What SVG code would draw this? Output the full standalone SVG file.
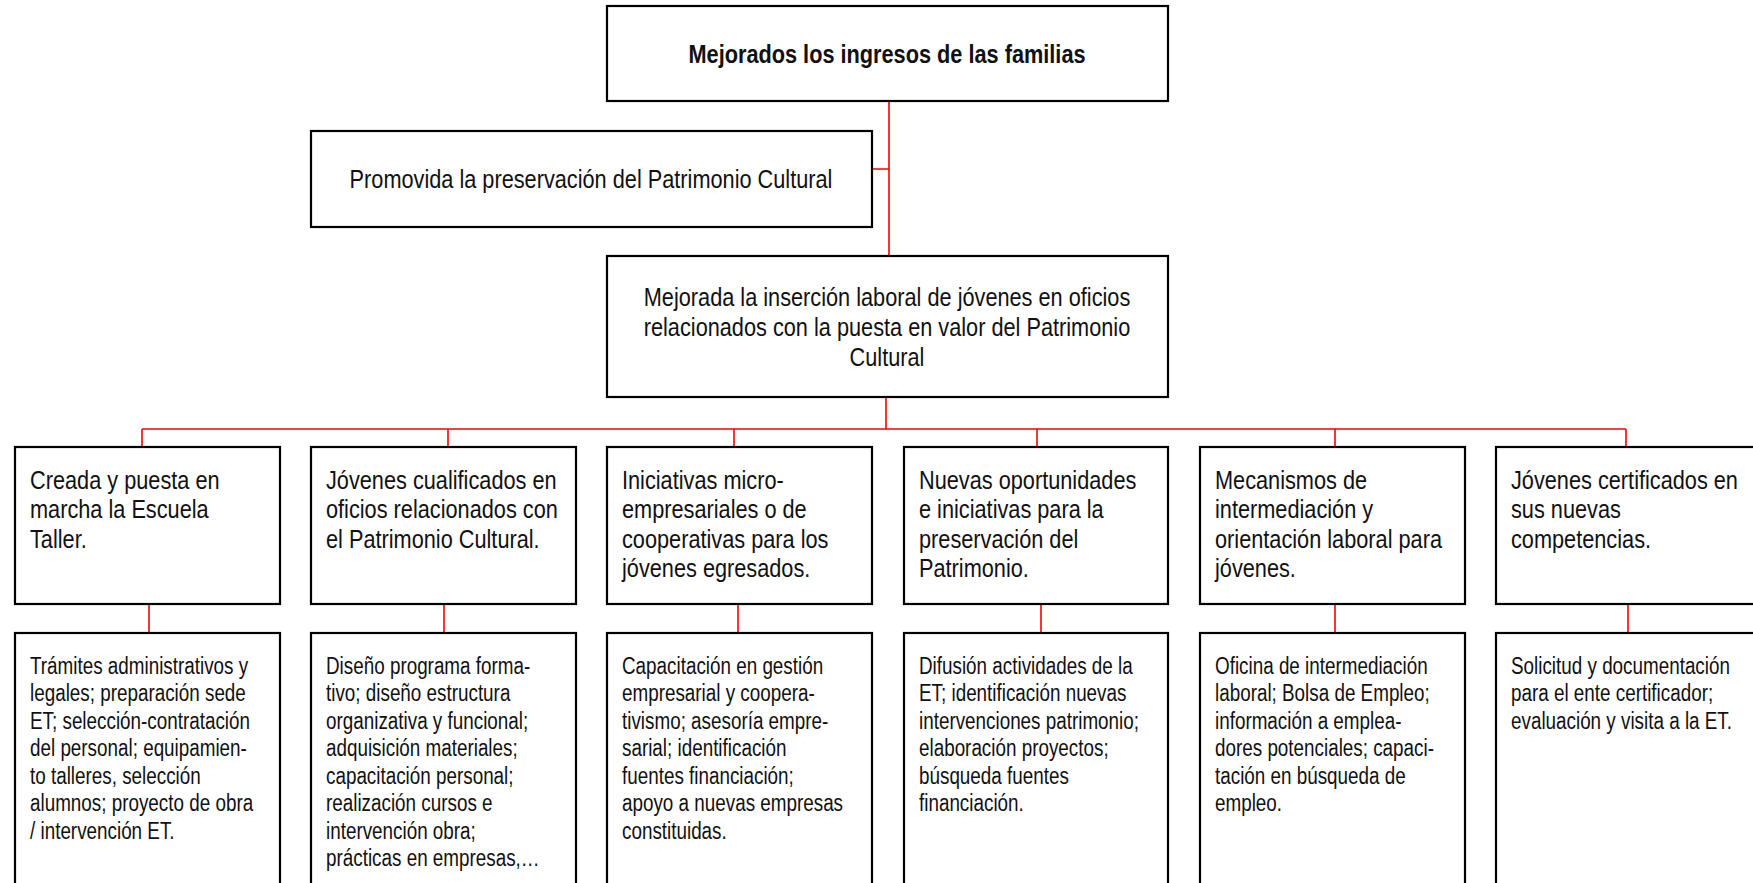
<svg xmlns="http://www.w3.org/2000/svg" width="1753" height="883" viewBox="0 0 1753 883">
<style>
.box{fill:#fff;stroke:#000;stroke-width:2.2}
.t{font-family:"Liberation Sans",Arial,sans-serif;fill:#111}
.c{text-anchor:middle;font-size:26.5px}
.h{font-size:26.5px}
.s{font-size:23px}
.b{font-weight:bold}
.con{stroke:#ff0000;stroke-width:1.6;fill:none}
</style>
<rect width="1753" height="883" fill="#fff"/>
<g id="connectors">
<path class="con" d="M889 101V256M872 169H889M886 397V429M142 429H1626M142 429V447M448 429V447M734 429V447M1037 429V447M1335 429V447M1626 429V447"/>
<path class="con" d="M149 604V633M444 604V633M738 604V633M1041 604V633M1335 604V633M1628 604V633"/>
</g>
<g id="n-top">
<rect class="box" x="607" y="6" width="561" height="95"/>
<text class="t c b" transform="translate(887 63) scale(0.82 1)">Mejorados los ingresos de las familias</text>
</g>
<g id="n-promovida">
<rect class="box" x="311" y="131" width="561" height="96"/>
<text class="t c" transform="translate(591 188) scale(0.82 1)">Promovida la preservación del Patrimonio Cultural</text>
</g>
<g id="n-mejorada">
<rect class="box" x="607" y="256" width="561" height="141"/>
<text class="t c" transform="translate(887 306) scale(0.82 1)"><tspan x="0" y="0">Mejorada la inserción laboral de jóvenes en oficios</tspan><tspan x="0" dy="30">relacionados con la puesta en valor del Patrimonio</tspan><tspan x="0" dy="30">Cultural</tspan></text>
</g>
<g id="r1">
<rect class="box" x="15" y="447" width="265" height="157"/>
<text class="t h" transform="translate(30 489) scale(0.82 1)"><tspan x="0" y="0">Creada y puesta en</tspan><tspan x="0" dy="29.5">marcha la Escuela</tspan><tspan x="0" dy="29.5">Taller.</tspan></text>
</g>
<g id="r2">
<rect class="box" x="311" y="447" width="265" height="157"/>
<text class="t h" transform="translate(326 489) scale(0.82 1)"><tspan x="0" y="0">Jóvenes cualificados en</tspan><tspan x="0" dy="29.5">oficios relacionados con</tspan><tspan x="0" dy="29.5">el Patrimonio Cultural.</tspan></text>
</g>
<g id="r3">
<rect class="box" x="607" y="447" width="265" height="157"/>
<text class="t h" transform="translate(622 489) scale(0.82 1)"><tspan x="0" y="0">Iniciativas micro-</tspan><tspan x="0" dy="29.5">empresariales o de</tspan><tspan x="0" dy="29.5">cooperativas para los</tspan><tspan x="0" dy="29.5">jóvenes egresados.</tspan></text>
</g>
<g id="r4">
<rect class="box" x="904" y="447" width="264" height="157"/>
<text class="t h" transform="translate(919 489) scale(0.82 1)"><tspan x="0" y="0">Nuevas oportunidades</tspan><tspan x="0" dy="29.5">e iniciativas para la</tspan><tspan x="0" dy="29.5">preservación del</tspan><tspan x="0" dy="29.5">Patrimonio.</tspan></text>
</g>
<g id="r5">
<rect class="box" x="1200" y="447" width="265" height="157"/>
<text class="t h" transform="translate(1215 489) scale(0.82 1)"><tspan x="0" y="0">Mecanismos de</tspan><tspan x="0" dy="29.5">intermediación y</tspan><tspan x="0" dy="29.5">orientación laboral para</tspan><tspan x="0" dy="29.5">jóvenes.</tspan></text>
</g>
<g id="r6">
<rect class="box" x="1496" y="447" width="265" height="157"/>
<text class="t h" transform="translate(1511 489) scale(0.82 1)"><tspan x="0" y="0">Jóvenes certificados en</tspan><tspan x="0" dy="29.5">sus nuevas</tspan><tspan x="0" dy="29.5">competencias.</tspan></text>
</g>
<g id="a1">
<rect class="box" x="15" y="633" width="265" height="270"/>
<text class="t s" transform="translate(30 674) scale(0.82 1)"><tspan x="0" y="0">Trámites administrativos y</tspan><tspan x="0" dy="27.5">legales; preparación sede</tspan><tspan x="0" dy="27.5">ET; selección-contratación</tspan><tspan x="0" dy="27.5">del personal; equipamien-</tspan><tspan x="0" dy="27.5">to talleres, selección</tspan><tspan x="0" dy="27.5">alumnos; proyecto de obra</tspan><tspan x="0" dy="27.5">/ intervención ET.</tspan></text>
</g>
<g id="a2">
<rect class="box" x="311" y="633" width="265" height="270"/>
<text class="t s" transform="translate(326 674) scale(0.82 1)"><tspan x="0" y="0">Diseño programa forma-</tspan><tspan x="0" dy="27.5">tivo; diseño estructura</tspan><tspan x="0" dy="27.5">organizativa y funcional;</tspan><tspan x="0" dy="27.5">adquisición materiales;</tspan><tspan x="0" dy="27.5">capacitación personal;</tspan><tspan x="0" dy="27.5">realización cursos e</tspan><tspan x="0" dy="27.5">intervención obra;</tspan><tspan x="0" dy="27.5">prácticas en empresas,…</tspan></text>
</g>
<g id="a3">
<rect class="box" x="607" y="633" width="265" height="270"/>
<text class="t s" transform="translate(622 674) scale(0.82 1)"><tspan x="0" y="0">Capacitación en gestión</tspan><tspan x="0" dy="27.5">empresarial y coopera-</tspan><tspan x="0" dy="27.5">tivismo; asesoría empre-</tspan><tspan x="0" dy="27.5">sarial; identificación</tspan><tspan x="0" dy="27.5">fuentes financiación;</tspan><tspan x="0" dy="27.5">apoyo a nuevas empresas</tspan><tspan x="0" dy="27.5">constituidas.</tspan></text>
</g>
<g id="a4">
<rect class="box" x="904" y="633" width="264" height="270"/>
<text class="t s" transform="translate(919 674) scale(0.82 1)"><tspan x="0" y="0">Difusión actividades de la</tspan><tspan x="0" dy="27.5">ET; identificación nuevas</tspan><tspan x="0" dy="27.5">intervenciones patrimonio;</tspan><tspan x="0" dy="27.5">elaboración proyectos;</tspan><tspan x="0" dy="27.5">búsqueda fuentes</tspan><tspan x="0" dy="27.5">financiación.</tspan></text>
</g>
<g id="a5">
<rect class="box" x="1200" y="633" width="265" height="270"/>
<text class="t s" transform="translate(1215 674) scale(0.82 1)"><tspan x="0" y="0">Oficina de intermediación</tspan><tspan x="0" dy="27.5">laboral; Bolsa de Empleo;</tspan><tspan x="0" dy="27.5">información a emplea-</tspan><tspan x="0" dy="27.5">dores potenciales; capaci-</tspan><tspan x="0" dy="27.5">tación en búsqueda de</tspan><tspan x="0" dy="27.5">empleo.</tspan></text>
</g>
<g id="a6">
<rect class="box" x="1496" y="633" width="265" height="270"/>
<text class="t s" transform="translate(1511 674) scale(0.82 1)"><tspan x="0" y="0">Solicitud y documentación</tspan><tspan x="0" dy="27.5">para el ente certificador;</tspan><tspan x="0" dy="27.5">evaluación y visita a la ET.</tspan></text>
</g>
</svg>
